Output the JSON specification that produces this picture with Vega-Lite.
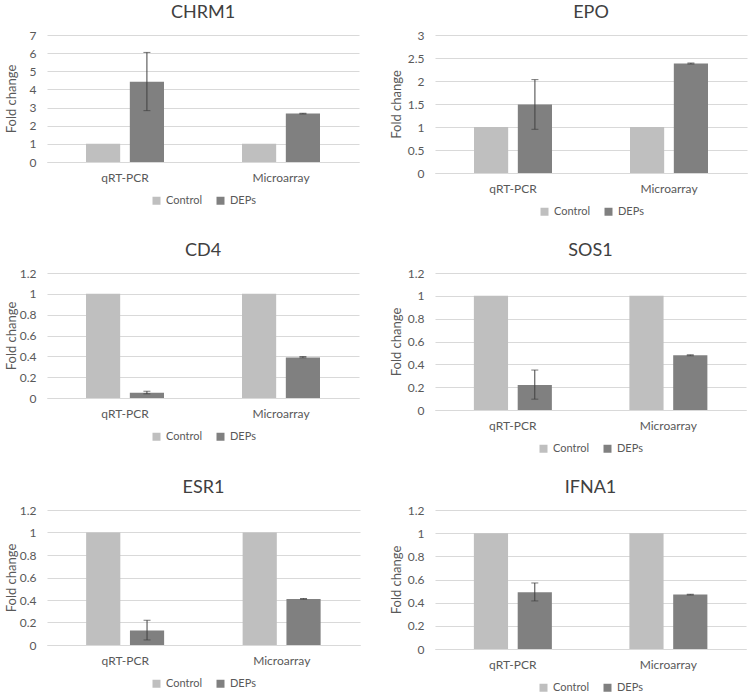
{
  "$schema": "https://vega.github.io/schema/vega-lite/v6.json",
  "padding": {"left": 5, "top": 4, "right": 2, "bottom": 0},
  "background": "white",
  "datasets": {
    "bars": [
      {"gene": "CHRM1", "method": "qRT-PCR", "group": "Control", "value": 1},
      {"gene": "CHRM1", "method": "qRT-PCR", "group": "DEPs", "value": 4.43, "lo": 2.83, "hi": 6.04},
      {"gene": "CHRM1", "method": "Microarray", "group": "Control", "value": 1},
      {"gene": "CHRM1", "method": "Microarray", "group": "DEPs", "value": 2.67, "lo": 2.65, "hi": 2.69},
      {"gene": "EPO", "method": "qRT-PCR", "group": "Control", "value": 1},
      {"gene": "EPO", "method": "qRT-PCR", "group": "DEPs", "value": 1.49, "lo": 0.95, "hi": 2.03},
      {"gene": "EPO", "method": "Microarray", "group": "Control", "value": 1},
      {"gene": "EPO", "method": "Microarray", "group": "DEPs", "value": 2.38, "lo": 2.37, "hi": 2.39},
      {"gene": "CD4", "method": "qRT-PCR", "group": "Control", "value": 1},
      {"gene": "CD4", "method": "qRT-PCR", "group": "DEPs", "value": 0.05, "lo": 0.04, "hi": 0.065},
      {"gene": "CD4", "method": "Microarray", "group": "Control", "value": 1},
      {"gene": "CD4", "method": "Microarray", "group": "DEPs", "value": 0.39, "lo": 0.386, "hi": 0.398},
      {"gene": "SOS1", "method": "qRT-PCR", "group": "Control", "value": 1},
      {"gene": "SOS1", "method": "qRT-PCR", "group": "DEPs", "value": 0.22, "lo": 0.095, "hi": 0.35},
      {"gene": "SOS1", "method": "Microarray", "group": "Control", "value": 1},
      {"gene": "SOS1", "method": "Microarray", "group": "DEPs", "value": 0.48, "lo": 0.476, "hi": 0.483},
      {"gene": "ESR1", "method": "qRT-PCR", "group": "Control", "value": 1},
      {"gene": "ESR1", "method": "qRT-PCR", "group": "DEPs", "value": 0.13, "lo": 0.045, "hi": 0.22},
      {"gene": "ESR1", "method": "Microarray", "group": "Control", "value": 1},
      {"gene": "ESR1", "method": "Microarray", "group": "DEPs", "value": 0.41, "lo": 0.407, "hi": 0.414},
      {"gene": "IFNA1", "method": "qRT-PCR", "group": "Control", "value": 1},
      {"gene": "IFNA1", "method": "qRT-PCR", "group": "DEPs", "value": 0.49, "lo": 0.415, "hi": 0.57},
      {"gene": "IFNA1", "method": "Microarray", "group": "Control", "value": 1},
      {"gene": "IFNA1", "method": "Microarray", "group": "DEPs", "value": 0.47, "lo": 0.467, "hi": 0.472}
    ]
  },
  "resolve": {"legend": {"color": "independent"}},
  "columns": 2,
  "align": "none",
  "spacing": {"row": 25, "column": 30},
  "concat": [
    {
      "width": 312, "height": 127, "title": "CHRM1",
      "data": {"name": "bars"},
      "transform": [{"filter": "datum.gene === 'CHRM1'"}],
      "encoding": {
        "x": {"field": "method", "type": "nominal", "sort": ["qRT-PCR", "Microarray"], "scale": {"paddingInner": 0.5, "paddingOuter": 0.25}, "axis": {"title": null, "labelAngle": 0, "labelPadding": 10, "grid": false}},
        "xOffset": {"field": "group", "type": "nominal", "sort": ["Control", "DEPs"], "scale": {"paddingInner": 0.22}}
      },
      "layer": [
        {"mark": {"type": "bar"}, "encoding": {
          "y": {"field": "value", "type": "quantitative", "title": "Fold change", "scale": {"domain": [0, 7], "nice": false}, "axis": {"values": [0, 1, 2, 3, 4, 5, 6, 7], "format": "~g", "domain": false, "labelPadding": 11, "minExtent": 26, "maxExtent": 26}},
          "color": {"field": "group", "type": "nominal", "scale": {"domain": ["Control", "DEPs"], "range": ["#BFBFBF", "#808080"]}, "legend": {"orient": "bottom", "title": null, "direction": "horizontal", "symbolType": "square"}}}},
        {"transform": [{"filter": "isValid(datum.lo)"}], "mark": {"type": "rule", "color": "#404040"}, "encoding": {"y": {"field": "lo", "type": "quantitative", "title": "Fold change", "axis": {"values": [0, 1, 2, 3, 4, 5, 6, 7], "format": "~g", "domain": false, "labelPadding": 11, "minExtent": 26, "maxExtent": 26}}, "y2": {"field": "hi"}}},
        {"transform": [{"filter": "isValid(datum.lo)"}], "mark": {"type": "tick", "color": "#404040", "thickness": 1, "size": 7}, "encoding": {"y": {"field": "lo", "type": "quantitative", "title": "Fold change", "axis": {"values": [0, 1, 2, 3, 4, 5, 6, 7], "format": "~g", "domain": false, "labelPadding": 11, "minExtent": 26, "maxExtent": 26}}}},
        {"transform": [{"filter": "isValid(datum.lo)"}], "mark": {"type": "tick", "color": "#404040", "thickness": 1, "size": 7}, "encoding": {"y": {"field": "hi", "type": "quantitative", "title": "Fold change", "axis": {"values": [0, 1, 2, 3, 4, 5, 6, 7], "format": "~g", "domain": false, "labelPadding": 11, "minExtent": 26, "maxExtent": 26}}}}
      ]
    },
    {
      "width": 312, "height": 138, "title": "EPO",
      "data": {"name": "bars"},
      "transform": [{"filter": "datum.gene === 'EPO'"}],
      "encoding": {
        "x": {"field": "method", "type": "nominal", "sort": ["qRT-PCR", "Microarray"], "scale": {"paddingInner": 0.5, "paddingOuter": 0.25}, "axis": {"title": null, "labelAngle": 0, "labelPadding": 10, "grid": false}},
        "xOffset": {"field": "group", "type": "nominal", "sort": ["Control", "DEPs"], "scale": {"paddingInner": 0.22}}
      },
      "layer": [
        {"mark": {"type": "bar"}, "encoding": {
          "y": {"field": "value", "type": "quantitative", "title": "Fold change", "scale": {"domain": [0, 3], "nice": false}, "axis": {"values": [0, 0.5, 1, 1.5, 2, 2.5, 3], "format": "~g", "domain": false, "labelPadding": 11, "minExtent": 29, "maxExtent": 29}},
          "color": {"field": "group", "type": "nominal", "scale": {"domain": ["Control", "DEPs"], "range": ["#BFBFBF", "#808080"]}, "legend": {"orient": "bottom", "title": null, "direction": "horizontal", "symbolType": "square"}}}},
        {"transform": [{"filter": "isValid(datum.lo)"}], "mark": {"type": "rule", "color": "#404040"}, "encoding": {"y": {"field": "lo", "type": "quantitative", "title": "Fold change", "axis": {"values": [0, 0.5, 1, 1.5, 2, 2.5, 3], "format": "~g", "domain": false, "labelPadding": 11, "minExtent": 29, "maxExtent": 29}}, "y2": {"field": "hi"}}},
        {"transform": [{"filter": "isValid(datum.lo)"}], "mark": {"type": "tick", "color": "#404040", "thickness": 1, "size": 7}, "encoding": {"y": {"field": "lo", "type": "quantitative", "title": "Fold change", "axis": {"values": [0, 0.5, 1, 1.5, 2, 2.5, 3], "format": "~g", "domain": false, "labelPadding": 11, "minExtent": 29, "maxExtent": 29}}}},
        {"transform": [{"filter": "isValid(datum.lo)"}], "mark": {"type": "tick", "color": "#404040", "thickness": 1, "size": 7}, "encoding": {"y": {"field": "hi", "type": "quantitative", "title": "Fold change", "axis": {"values": [0, 0.5, 1, 1.5, 2, 2.5, 3], "format": "~g", "domain": false, "labelPadding": 11, "minExtent": 29, "maxExtent": 29}}}}
      ]
    },
    {
      "width": 312, "height": 125, "title": "CD4",
      "data": {"name": "bars"},
      "transform": [{"filter": "datum.gene === 'CD4'"}],
      "encoding": {
        "x": {"field": "method", "type": "nominal", "sort": ["qRT-PCR", "Microarray"], "scale": {"paddingInner": 0.5, "paddingOuter": 0.25}, "axis": {"title": null, "labelAngle": 0, "labelPadding": 10, "grid": false}},
        "xOffset": {"field": "group", "type": "nominal", "sort": ["Control", "DEPs"], "scale": {"paddingInner": 0.22}}
      },
      "layer": [
        {"mark": {"type": "bar"}, "encoding": {
          "y": {"field": "value", "type": "quantitative", "title": "Fold change", "scale": {"domain": [0, 1.2], "nice": false}, "axis": {"values": [0, 0.2, 0.4, 0.6, 0.8, 1, 1.2], "format": "~g", "domain": false, "labelPadding": 11, "minExtent": 26, "maxExtent": 26}},
          "color": {"field": "group", "type": "nominal", "scale": {"domain": ["Control", "DEPs"], "range": ["#BFBFBF", "#808080"]}, "legend": {"orient": "bottom", "title": null, "direction": "horizontal", "symbolType": "square"}}}},
        {"transform": [{"filter": "isValid(datum.lo)"}], "mark": {"type": "rule", "color": "#404040"}, "encoding": {"y": {"field": "lo", "type": "quantitative", "title": "Fold change", "axis": {"values": [0, 0.2, 0.4, 0.6, 0.8, 1, 1.2], "format": "~g", "domain": false, "labelPadding": 11, "minExtent": 26, "maxExtent": 26}}, "y2": {"field": "hi"}}},
        {"transform": [{"filter": "isValid(datum.lo)"}], "mark": {"type": "tick", "color": "#404040", "thickness": 1, "size": 7}, "encoding": {"y": {"field": "lo", "type": "quantitative", "title": "Fold change", "axis": {"values": [0, 0.2, 0.4, 0.6, 0.8, 1, 1.2], "format": "~g", "domain": false, "labelPadding": 11, "minExtent": 26, "maxExtent": 26}}}},
        {"transform": [{"filter": "isValid(datum.lo)"}], "mark": {"type": "tick", "color": "#404040", "thickness": 1, "size": 7}, "encoding": {"y": {"field": "hi", "type": "quantitative", "title": "Fold change", "axis": {"values": [0, 0.2, 0.4, 0.6, 0.8, 1, 1.2], "format": "~g", "domain": false, "labelPadding": 11, "minExtent": 26, "maxExtent": 26}}}}
      ]
    },
    {
      "width": 311, "height": 137, "title": "SOS1",
      "data": {"name": "bars"},
      "transform": [{"filter": "datum.gene === 'SOS1'"}],
      "encoding": {
        "x": {"field": "method", "type": "nominal", "sort": ["qRT-PCR", "Microarray"], "scale": {"paddingInner": 0.5, "paddingOuter": 0.25}, "axis": {"title": null, "labelAngle": 0, "labelPadding": 10, "grid": false}},
        "xOffset": {"field": "group", "type": "nominal", "sort": ["Control", "DEPs"], "scale": {"paddingInner": 0.22}}
      },
      "layer": [
        {"mark": {"type": "bar"}, "encoding": {
          "y": {"field": "value", "type": "quantitative", "title": "Fold change", "scale": {"domain": [0, 1.2], "nice": false}, "axis": {"values": [0, 0.2, 0.4, 0.6, 0.8, 1, 1.2], "format": "~g", "domain": false, "labelPadding": 11, "minExtent": 29, "maxExtent": 29}},
          "color": {"field": "group", "type": "nominal", "scale": {"domain": ["Control", "DEPs"], "range": ["#BFBFBF", "#808080"]}, "legend": {"orient": "bottom", "title": null, "direction": "horizontal", "symbolType": "square"}}}},
        {"transform": [{"filter": "isValid(datum.lo)"}], "mark": {"type": "rule", "color": "#404040"}, "encoding": {"y": {"field": "lo", "type": "quantitative", "title": "Fold change", "axis": {"values": [0, 0.2, 0.4, 0.6, 0.8, 1, 1.2], "format": "~g", "domain": false, "labelPadding": 11, "minExtent": 29, "maxExtent": 29}}, "y2": {"field": "hi"}}},
        {"transform": [{"filter": "isValid(datum.lo)"}], "mark": {"type": "tick", "color": "#404040", "thickness": 1, "size": 7}, "encoding": {"y": {"field": "lo", "type": "quantitative", "title": "Fold change", "axis": {"values": [0, 0.2, 0.4, 0.6, 0.8, 1, 1.2], "format": "~g", "domain": false, "labelPadding": 11, "minExtent": 29, "maxExtent": 29}}}},
        {"transform": [{"filter": "isValid(datum.lo)"}], "mark": {"type": "tick", "color": "#404040", "thickness": 1, "size": 7}, "encoding": {"y": {"field": "hi", "type": "quantitative", "title": "Fold change", "axis": {"values": [0, 0.2, 0.4, 0.6, 0.8, 1, 1.2], "format": "~g", "domain": false, "labelPadding": 11, "minExtent": 29, "maxExtent": 29}}}}
      ]
    },
    {
      "width": 313, "height": 135, "title": "ESR1",
      "data": {"name": "bars"},
      "transform": [{"filter": "datum.gene === 'ESR1'"}],
      "encoding": {
        "x": {"field": "method", "type": "nominal", "sort": ["qRT-PCR", "Microarray"], "scale": {"paddingInner": 0.5, "paddingOuter": 0.25}, "axis": {"title": null, "labelAngle": 0, "labelPadding": 10, "grid": false}},
        "xOffset": {"field": "group", "type": "nominal", "sort": ["Control", "DEPs"], "scale": {"paddingInner": 0.22}}
      },
      "layer": [
        {"mark": {"type": "bar"}, "encoding": {
          "y": {"field": "value", "type": "quantitative", "title": "Fold change", "scale": {"domain": [0, 1.2], "nice": false}, "axis": {"values": [0, 0.2, 0.4, 0.6, 0.8, 1, 1.2], "format": "~g", "domain": false, "labelPadding": 11, "minExtent": 26, "maxExtent": 26}},
          "color": {"field": "group", "type": "nominal", "scale": {"domain": ["Control", "DEPs"], "range": ["#BFBFBF", "#808080"]}, "legend": {"orient": "bottom", "title": null, "direction": "horizontal", "symbolType": "square"}}}},
        {"transform": [{"filter": "isValid(datum.lo)"}], "mark": {"type": "rule", "color": "#404040"}, "encoding": {"y": {"field": "lo", "type": "quantitative", "title": "Fold change", "axis": {"values": [0, 0.2, 0.4, 0.6, 0.8, 1, 1.2], "format": "~g", "domain": false, "labelPadding": 11, "minExtent": 26, "maxExtent": 26}}, "y2": {"field": "hi"}}},
        {"transform": [{"filter": "isValid(datum.lo)"}], "mark": {"type": "tick", "color": "#404040", "thickness": 1, "size": 7}, "encoding": {"y": {"field": "lo", "type": "quantitative", "title": "Fold change", "axis": {"values": [0, 0.2, 0.4, 0.6, 0.8, 1, 1.2], "format": "~g", "domain": false, "labelPadding": 11, "minExtent": 26, "maxExtent": 26}}}},
        {"transform": [{"filter": "isValid(datum.lo)"}], "mark": {"type": "tick", "color": "#404040", "thickness": 1, "size": 7}, "encoding": {"y": {"field": "hi", "type": "quantitative", "title": "Fold change", "axis": {"values": [0, 0.2, 0.4, 0.6, 0.8, 1, 1.2], "format": "~g", "domain": false, "labelPadding": 11, "minExtent": 26, "maxExtent": 26}}}}
      ]
    },
    {
      "width": 311, "height": 139, "title": "IFNA1",
      "data": {"name": "bars"},
      "transform": [{"filter": "datum.gene === 'IFNA1'"}],
      "encoding": {
        "x": {"field": "method", "type": "nominal", "sort": ["qRT-PCR", "Microarray"], "scale": {"paddingInner": 0.5, "paddingOuter": 0.25}, "axis": {"title": null, "labelAngle": 0, "labelPadding": 10, "grid": false}},
        "xOffset": {"field": "group", "type": "nominal", "sort": ["Control", "DEPs"], "scale": {"paddingInner": 0.22}}
      },
      "layer": [
        {"mark": {"type": "bar"}, "encoding": {
          "y": {"field": "value", "type": "quantitative", "title": "Fold change", "scale": {"domain": [0, 1.2], "nice": false}, "axis": {"values": [0, 0.2, 0.4, 0.6, 0.8, 1, 1.2], "format": "~g", "domain": false, "labelPadding": 11, "minExtent": 29, "maxExtent": 29}},
          "color": {"field": "group", "type": "nominal", "scale": {"domain": ["Control", "DEPs"], "range": ["#BFBFBF", "#808080"]}, "legend": {"orient": "bottom", "title": null, "direction": "horizontal", "symbolType": "square"}}}},
        {"transform": [{"filter": "isValid(datum.lo)"}], "mark": {"type": "rule", "color": "#404040"}, "encoding": {"y": {"field": "lo", "type": "quantitative", "title": "Fold change", "axis": {"values": [0, 0.2, 0.4, 0.6, 0.8, 1, 1.2], "format": "~g", "domain": false, "labelPadding": 11, "minExtent": 29, "maxExtent": 29}}, "y2": {"field": "hi"}}},
        {"transform": [{"filter": "isValid(datum.lo)"}], "mark": {"type": "tick", "color": "#404040", "thickness": 1, "size": 7}, "encoding": {"y": {"field": "lo", "type": "quantitative", "title": "Fold change", "axis": {"values": [0, 0.2, 0.4, 0.6, 0.8, 1, 1.2], "format": "~g", "domain": false, "labelPadding": 11, "minExtent": 29, "maxExtent": 29}}}},
        {"transform": [{"filter": "isValid(datum.lo)"}], "mark": {"type": "tick", "color": "#404040", "thickness": 1, "size": 7}, "encoding": {"y": {"field": "hi", "type": "quantitative", "title": "Fold change", "axis": {"values": [0, 0.2, 0.4, 0.6, 0.8, 1, 1.2], "format": "~g", "domain": false, "labelPadding": 11, "minExtent": 29, "maxExtent": 29}}}}
      ]
    }
  ],
  "config": {
    "view": {"stroke": null},
    "font": "Lato",
    "title": {"fontSize": 18, "fontWeight": "normal", "color": "#404040", "offset": 7},
    "axis": {"labelColor": "#595959", "titleColor": "#595959", "labelFontSize": 12, "titleFontSize": 13, "titleFontWeight": "normal", "titlePadding": 3, "gridColor": "#D9D9D9", "domainColor": "#D9D9D9", "ticks": false},
    "legend": {"labelColor": "#595959", "labelFontSize": 11, "symbolSize": 64, "symbolStrokeWidth": 0, "offset": 12, "columnPadding": 12, "layout": {"bottom": {"anchor": "middle"}}}
  }
}
